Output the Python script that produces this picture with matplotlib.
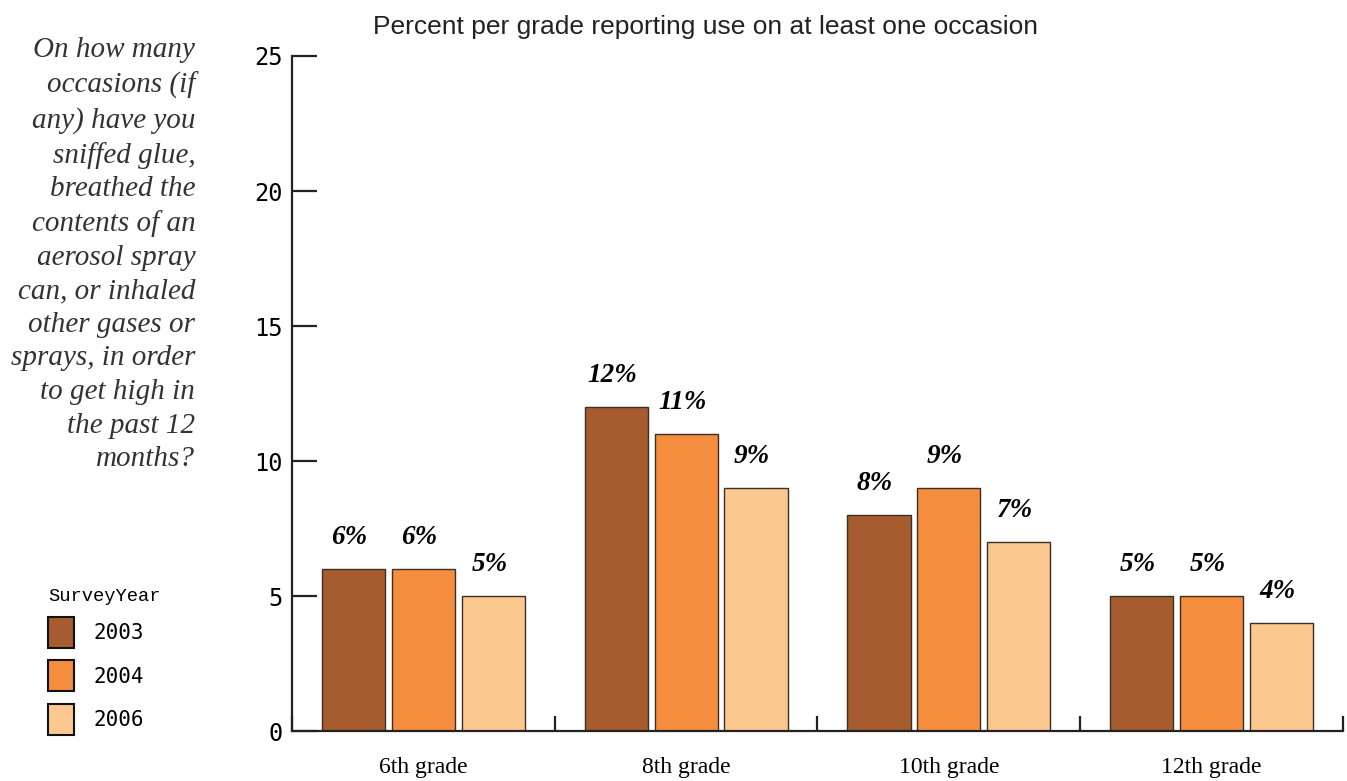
import numpy as np
import matplotlib
matplotlib.use('Agg')
from matplotlib import pyplot as plt
from matplotlib.patches import Patch

grades = ['6th grade', '8th grade', '10th grade', '12th grade']
years = ['2003', '2004', '2006']
pct_2003 = [6, 12, 8, 5]
pct_2004 = [6, 11, 9, 5]
pct_2006 = [5, 9, 7, 4]
colors = ['#A65C2E', '#F58D3F', '#FBC98F']

question = ('On how many\noccasions (if\nany) have you\nsniffed glue,\nbreathed the\n'
            'contents of an\naerosol spray\ncan, or inhaled\nother gases or\n'
            'sprays, in order\nto get high in\nthe past 12\nmonths?')

fig = plt.figure(figsize=(13.47, 7.81), dpi=100)
ax = fig.add_axes([0.2168, 0.0640, 0.7802, 0.8643])

x = np.arange(len(grades))
step = 0.266
width = 0.24
for i, vals in enumerate([pct_2003, pct_2004, pct_2006]):
    bars = ax.bar(x + (i - 1) * step, vals, width, color=colors[i],
                  edgecolor='#3b2f25', linewidth=1.0, zorder=2)
    for b, v in zip(bars, vals):
        ax.text(b.get_x() + b.get_width() / 2 - 0.015, v + 0.7, f'{v}%',
                ha='center', va='bottom', fontsize=19.5, fontweight='bold',
                fontstyle='italic', family='Liberation Serif')

ax.set_xlim(-0.5, 3.5)
ax.set_ylim(0, 25)
for s in ['top', 'right']:
    ax.spines[s].set_visible(False)
for s in ['left', 'bottom']:
    ax.spines[s].set_linewidth(1.6)
    ax.spines[s].set_color('#222222')

ax.set_yticks([0, 5, 10, 15, 20, 25])
ax.set_yticklabels(['0', '5', '10', '15', '20', '25'], family='DejaVu Sans Mono', fontsize=17)
ax.tick_params(axis='y', direction='in', length=18, width=1.6, color='#222222', pad=7)

ax.set_xticks(x)
ax.set_xticklabels(grades, family='Liberation Serif', fontsize=17)
ax.tick_params(axis='x', which='major', length=0, pad=19)
ax.set_xticks([-0.5, 0.5, 1.5, 2.5, 3.5], minor=True)
ax.tick_params(axis='x', which='minor', direction='in', length=11, width=1.6, color='#222222')

fig.text(0.524, 0.966, 'Percent per grade reporting use on at least one occasion',
         ha='center', va='center', fontsize=19, family='Liberation Sans', color='#222222')

fig.text(0.145, 0.952, question, ha='right', va='top', fontsize=21,
         fontstyle='italic', family='Liberation Serif', color='#333333', linespacing=1.38)

handles = [Patch(facecolor=c, edgecolor='#111111', linewidth=1.5) for c in colors]
leg = fig.legend(handles, years, title='SurveyYear', loc='upper left',
                 bbox_to_anchor=(0.022, 0.271), frameon=False, alignment='left',
                 prop={'family': 'DejaVu Sans Mono', 'size': 15},
                 handlelength=1.25, handleheight=1.92, handletextpad=0.91, labelspacing=0.58)
leg.get_title().set_family('Liberation Mono')
leg.get_title().set_fontsize(13.5)

fig.savefig('out.png', dpi=100)
